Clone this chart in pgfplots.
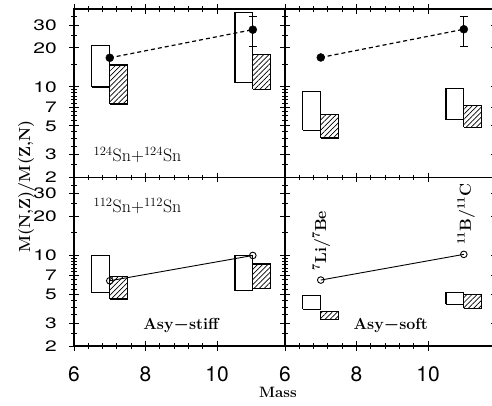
\documentclass[border=0pt]{standalone}
\usepackage{fontspec}
\setsansfont{TeX Gyre Heros}
\usepackage{pgfplots}
\pgfplotsset{compat=1.18}
\usepgfplotslibrary{groupplots}
\usetikzlibrary{patterns.meta,calc}

\pgfplotsset{
  panel/.style={
    width=211pt, height=168.5pt, scale only axis,
    xmin=6, xmax=11.9, ymin=2, ymax=40, ymode=log,
    xtick={6,8,10}, minor x tick num=4,
    ytick={2,3,5,7,10,20,30},
    minor ytick={2.5,3.5,4,4.5,5.5,6,6.5,7.5,8,8.5,9,9.5,15,25,35},
    axis on top,
    axis line style={line width=1.2pt},
    tick align=center,
    major tick length=10pt, minor tick length=6pt,
    tick style={black, line width=1pt},
    ticklabel style={font=\sffamily\fontsize{21}{21}\selectfont, inner sep=0pt},
    xticklabel style={yshift=-15pt},
    yticklabel style={xshift=-12pt, yscale=0.72},
    xticklabels={}, yticklabels={},
  },
  box/.style={black, line width=1.2pt, fill=white},
  hatch/.style={black, line width=1.2pt,
    pattern={Lines[angle=45,distance=3.6pt,line width=0.7pt]}},
  dashline/.style={black, line width=1.2pt, dash pattern=on 4pt off 3pt},
  dots/.style={black, only marks, mark=*, mark size=4pt},
  errdot/.style={black, only marks, mark=*, mark size=4pt,
    error bars/.cd, y dir=both, y explicit,
    error bar style={line width=1pt},
    error mark options={rotate=90, mark size=4pt, line width=1pt}},
  solidline/.style={black, line width=0.9pt},
  circles/.style={black, only marks, mark=o, mark size=3.3pt, mark options={line width=0.9pt}},
}
\newcommand{\panelfont}{\fontsize{18}{18}\selectfont}
\newcommand{\labelfont}{\fontsize{16}{16}\selectfont\bfseries}

\begin{document}
\begin{tikzpicture}
\begin{groupplot}[
  group style={group name=G, group size=2 by 2, horizontal sep=0pt, vertical sep=0pt},
  panel]

% 124Sn+124Sn, asy-stiff
\nextgroupplot[yticklabels={2,3,5,7,10,20,30}]
\addplot[box] coordinates {(6.5,10) (7,10) (7,21) (6.5,21) (6.5,10)};
\addplot[hatch] coordinates {(7,7.4) (7.5,7.4) (7.5,14.8) (7,14.8) (7,7.4)};
\addplot[box] coordinates {(10.5,10.8) (11,10.8) (11,37.4) (10.5,37.4) (10.5,10.8)};
\addplot[hatch] coordinates {(11,9.6) (11.5,9.6) (11.5,17.9) (11,17.9) (11,9.6)};
\addplot[dashline] coordinates {(7,16.8) (11,27.7)};
\addplot[dots] coordinates {(7,16.8)};
\addplot[errdot] coordinates {(11,27.7) += (0,7.5) -= (0,7.3)};
\node[anchor=base west, font=\panelfont] at (axis cs:6.45,2.65) {\textsuperscript{124}Sn+\textsuperscript{124}Sn};

% 124Sn+124Sn, asy-soft
\nextgroupplot
\addplot[box] coordinates {(6.5,4.62) (7,4.62) (7,9.2) (6.5,9.2) (6.5,4.62)};
\addplot[hatch] coordinates {(7,4.04) (7.5,4.04) (7.5,6.1) (7,6.1) (7,4.04)};
\addplot[box] coordinates {(10.5,5.6) (11,5.6) (11,9.8) (10.5,9.8) (10.5,5.6)};
\addplot[hatch] coordinates {(11,4.88) (11.5,4.88) (11.5,7.2) (11,7.2) (11,4.88)};
\addplot[dashline] coordinates {(7,16.9) (11,27.9)};
\addplot[dots] coordinates {(7,16.9)};
\addplot[errdot] coordinates {(11,27.9) += (0,7.3) -= (0,7.5)};

% 112Sn+112Sn, asy-stiff
\nextgroupplot[xticklabels={6,8,10}, yticklabels={2,3,5,7,10,20,30}]
\addplot[box] coordinates {(6.5,5.15) (7,5.15) (7,10) (6.5,10) (6.5,5.15)};
\addplot[hatch] coordinates {(7,4.62) (7.5,4.62) (7.5,6.93) (7,6.93) (7,4.62)};
\addplot[box] coordinates {(10.5,5.33) (11,5.33) (11,10) (10.5,10) (10.5,5.33)};
\addplot[hatch] coordinates {(11,5.57) (11.5,5.57) (11.5,8.6) (11,8.6) (11,5.57)};
\addplot[solidline] coordinates {(7,6.38) (11,10)};
\addplot[circles] coordinates {(7,6.38) (11,10)};
\node[anchor=base west, font=\panelfont] at (axis cs:6.45,21.5) {\textsuperscript{112}Sn+\textsuperscript{112}Sn};
\node[anchor=base west, font=\labelfont] at (axis cs:7.84,2.68) {Asy{\boldmath$-$}stiff};

% 112Sn+112Sn, asy-soft
\nextgroupplot[xticklabels={6,8,10}]
\addplot[box] coordinates {(6.5,3.85) (7,3.85) (7,4.88) (6.5,4.88) (6.5,3.85)};
\addplot[hatch] coordinates {(7,3.2) (7.5,3.2) (7.5,3.67) (7,3.67) (7,3.2)};
\addplot[box] coordinates {(10.5,4.19) (11,4.19) (11,5.19) (10.5,5.19) (10.5,4.19)};
\addplot[hatch] coordinates {(11,3.9) (11.5,3.9) (11.5,5.0) (11,5.0) (11,3.9)};
\addplot[solidline] coordinates {(7,6.46) (11,10.2)};
\addplot[circles] coordinates {(7,6.46) (11,10.2)};
\node[anchor=base west, font=\labelfont] at (axis cs:7.82,2.68) {Asy{\boldmath$-$}soft};
\node[anchor=base west, rotate=90, font=\labelfont] at (axis cs:7.15,7.2) {\textsuperscript{7}Li/\textsuperscript{7}Be};
\node[anchor=base west, rotate=90, font=\labelfont] at (axis cs:11.2,11.4) {\textsuperscript{11}B/\textsuperscript{11}C};
\end{groupplot}

\node[anchor=base, font=\fontsize{15}{15}\selectfont\bfseries] at ($(G c1r2.south east)+(-7pt,-51pt)$) {Mass};
\node[anchor=base, rotate=90, font=\fontsize{16}{16}\selectfont\bfseries] at ($(G c1r2.north west)+(-44pt,-9pt)$) {M(N,Z)/M(Z,N)};

\pgfresetboundingbox
\path[use as bounding box] ($(G c1r2.south west)+(-74pt,-59pt)$) rectangle ($(G c2r1.north east)+(-4pt,9pt)$);
\end{tikzpicture}
\end{document}
